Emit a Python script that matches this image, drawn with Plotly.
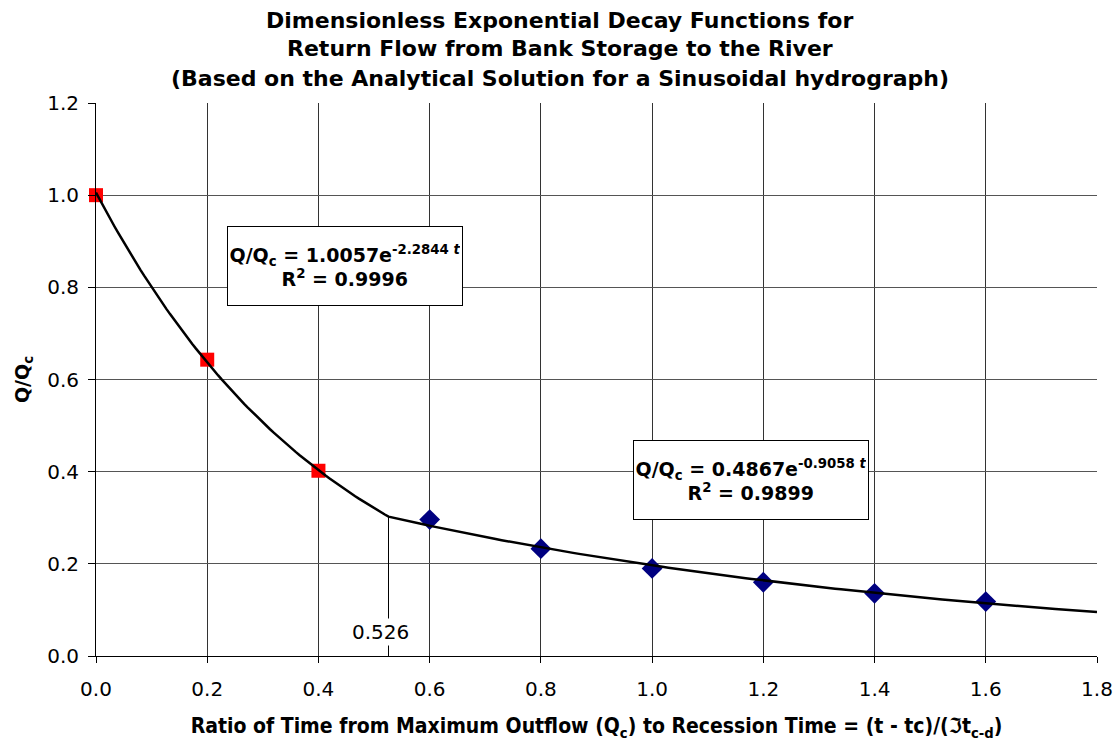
import numpy as np
import plotly.graph_objects as go

# Dimensionless discharge Q/Qc at sampled recession times
t_early = [0.0, 0.2, 0.4]
q_early = [1.0, 0.643, 0.402]
t_late = [0.6, 0.8, 1.0, 1.2, 1.4, 1.6]
q_late = [0.296, 0.233, 0.190, 0.160, 0.136, 0.118]

# Fitted exponential decay coefficients (Q/Qc = a * exp(b * t))
fit_early = (1.0057, -2.2844)
fit_late = (0.4867, -0.9058)
r2_early = 0.9996
r2_late = 0.9899
t_break = 0.526
t_end = 1.8

x_ticks = [0.0, 0.2, 0.4, 0.6, 0.8, 1.0, 1.2, 1.4, 1.6, 1.8]
y_ticks = [0.0, 0.2, 0.4, 0.6, 0.8, 1.0, 1.2]

title_lines = [
    "Dimensionless Exponential Decay Functions for",
    "Return Flow from Bank Storage to the River",
    "(Based on the Analytical Solution for a Sinusoidal hydrograph)",
]

FONT = "DejaVu Sans, Liberation Sans, sans-serif"
FONT_COND = "DejaVu Sans Condensed, DejaVu Sans, sans-serif"


def decay(coef, t):
    a, b = coef
    return a * np.exp(b * t)


t1 = np.linspace(0.0, t_break, 80)
t2 = np.linspace(t_break, t_end, 120)
t_curve = np.concatenate([t1, t2])
q_curve = np.concatenate([decay(fit_early, t1), decay(fit_late, t2)])
q_break = float(decay(fit_early, np.array(t_break)))

fig = go.Figure()

fig.add_trace(go.Scatter(
    x=t_early, y=q_early, mode="markers",
    marker=dict(symbol="square", size=14, color="#ff0000"),
    cliponaxis=False, showlegend=False))
fig.add_trace(go.Scatter(
    x=t_late, y=q_late, mode="markers",
    marker=dict(symbol="diamond", size=16, color="#000080"),
    cliponaxis=False, showlegend=False))
fig.add_trace(go.Scatter(
    x=t_curve, y=q_curve, mode="lines",
    line=dict(color="black", width=2.5), showlegend=False))

# Vertical marker at the break between the two fitted segments
fig.add_shape(type="line", x0=t_break, x1=t_break, y0=0, y1=q_break,
              line=dict(color="black", width=1), layer="above")

fig.add_annotation(x=t_break, y=0.052, text=f"{t_break}", showarrow=False,
                   xanchor="center", xshift=-8, bgcolor="white",
                   font=dict(family=FONT, size=20, color="black"))


def eq_text(coef, r2):
    a, b = coef
    return (f"<b>Q/Q<sub>c</sub> = {a:.4f}e<sup>{b:.4f} <i>t</i></sup></b><br>"
            f"<b>R<sup>2</sup> = {r2:.4f}</b>")


box_style = dict(showarrow=False, align="center", width=230, height=74,
                 bgcolor="white", bordercolor="black", borderwidth=1,
                 borderpad=2, font=dict(family=FONT, size=19, color="black"))
fig.add_annotation(x=0.448, y=0.847, text=eq_text(fit_early, r2_early), **box_style)
fig.add_annotation(x=1.177, y=0.382, text=eq_text(fit_late, r2_late), **box_style)

# Three-line chart heading, placed line by line above the plot area
for line, ypos in zip(title_lines, [1.150, 1.099, 1.045]):
    fig.add_annotation(xref="paper", yref="paper", x=0.4635, y=ypos,
                       text=f"<b>{line}</b>", showarrow=False,
                       xanchor="center", yanchor="middle",
                       font=dict(family=FONT, size=22, color="black"))

fig.update_layout(
    width=1119, height=744,
    paper_bgcolor="white", plot_bgcolor="white",
    margin=dict(l=96, r=22, t=103, b=88, autoexpand=False),
    font=dict(family=FONT, color="black"),
    xaxis=dict(
        range=[0, 1.8], tickvals=x_ticks,
        ticktext=[f"{v:.1f}" for v in x_ticks],
        automargin=False,
        showgrid=True, gridcolor="#333333", gridwidth=1,
        showline=True, linecolor="black", linewidth=1, mirror=False,
        ticks="outside", ticklen=6, tickcolor="black",
        ticklabelstandoff=9,
        tickfont=dict(family=FONT, size=20), zeroline=False,
        title=dict(
            text=("<b>Ratio of Time from Maximum Outflow (Q<sub>c</sub>) to "
                  "Recession Time = (t - tc)/(ℑt<sub>c-d</sub>)</b>"),
            font=dict(family=FONT_COND, size=21),
            standoff=18)),
    yaxis=dict(
        range=[0, 1.2], tickvals=y_ticks,
        ticktext=[f"{v:.1f}" for v in y_ticks],
        automargin=False,
        showgrid=True, gridcolor="#555555", gridwidth=1,
        showline=True, linecolor="black", linewidth=1,
        ticks="outside", ticklen=7, tickcolor="black",
        ticklabelstandoff=5,
        tickfont=dict(family=FONT, size=20), zeroline=False,
        title=dict(text="<b>Q/Q<sub>c</sub></b>",
                   font=dict(family=FONT, size=19), standoff=12)),
)

fig.write_html("out.html")
